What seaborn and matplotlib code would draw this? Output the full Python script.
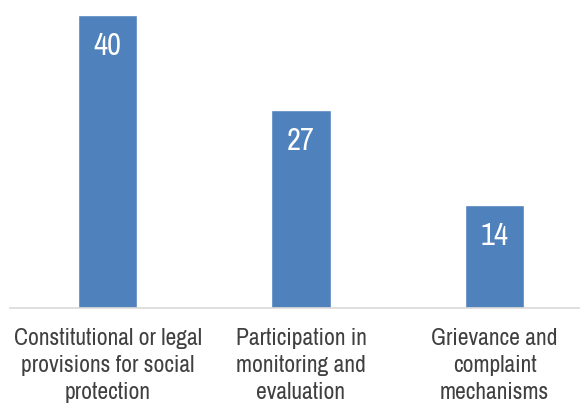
import pandas as pd
import matplotlib
matplotlib.use('Agg')
import matplotlib.pyplot as plt
import seaborn as sns

# Data
categories = ['Constitutional or legal\nprovisions for social\nprotection',
              'Participation in\nmonitoring and\nevaluation',
              'Grievance and\ncomplaint\nmechanisms']
values = [40, 27, 14]

df = pd.DataFrame({'category': categories, 'value': values})

sns.set_style('white')
plt.rcParams['font.family'] = ['Archivo Narrow', 'Roboto Condensed', 'DejaVu Sans']

fig = plt.figure(figsize=(5.8, 4.06), dpi=100)
ax = fig.add_axes([10 / 580, 1 - 309 / 406, 570 / 580, 309 / 406])

sns.barplot(data=df, x='category', y='value', color='#4F81BD', saturation=1,
            width=0.305, ax=ax)

# value labels inside the bars
for p in ax.patches:
    ax.annotate(f'{p.get_height():.0f}', (p.get_x() + p.get_width() / 2, p.get_height()),
                xytext=(0, -21.6), textcoords='offset points',
                ha='center', va='center', color='white', fontsize=22)

ax.set_xlim(-0.504, 2.442)
ax.set_ylim(0, 42.18)
ax.set_xlabel('')
ax.set_ylabel('')
ax.set_yticks([])
ax.tick_params(axis='x', length=0, pad=14, labelsize=17, labelcolor='#404040')
for lbl in ax.get_xticklabels():
    lbl.set_linespacing(1.33)

for s in ['top', 'left', 'right']:
    ax.spines[s].set_visible(False)
ax.spines['bottom'].set_color('#D9D9D9')
ax.spines['bottom'].set_linewidth(1.2)

fig.savefig('out.png', dpi=100)
